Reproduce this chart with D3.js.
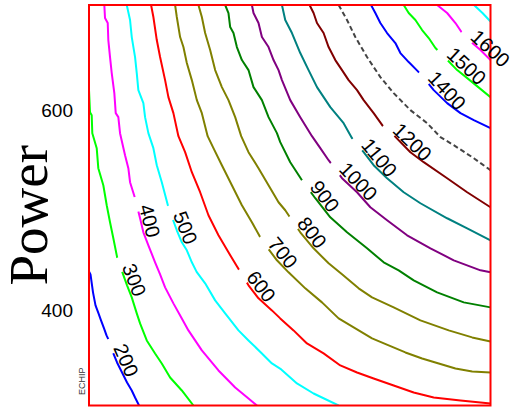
<!DOCTYPE html>
<html>
<head>
<meta charset="utf-8">
<script src="https://cdn.jsdelivr.net/npm/d3@7"></script>
<style>
  html, body { margin: 0; padding: 0; background: #fff; }
  svg { display: block; }
</style>
</head>
<body>
<svg id="chart" width="514" height="409"></svg>
<script>
// Contour levels of the fitted response, with their line colours
const levels = [200, 300, 400, 500, 600, 700, 800, 900, 1000, 1100, 1200, 1300, 1400, 1500, 1600, 1700];
const levelColors = ["#0000ff", "#00ff00", "#ff00ff", "#00ffff", "#ff0000", "#808000", "#808000", "#008000",
                     "#800080", "#008080", "#800000", "#444444", "#0000ff", "#00ff00", "#ff00ff", "#00ffff"];
// Power value at which each contour carries its label (null = unlabelled)
const labelPower = [362, 443, 503.5, 495, 432, 465, 485.5, 522, 539, 563.6, 577.5, null, 630, 653, 670.5, null];
const yTicks = [400, 600];

// Contour traces as [x, Power] pairs
const c200 = [[0,439],[1.5,436],[4,418],[6.5,405],[9.5,397],[12,390],[15,382],[17.5,375],[20.3,369],[24.3,357],[28,348],[31,342],[35,334],[38,328],[42.7,320],[46,313],[50,305]];
const c300 = [[0,620],[1,598],[2.7,595],[3.3,577],[7.7,562],[9.3,542],[14.3,525],[17.7,505],[21,488],[24.3,472],[28.5,451],[31,444],[33.7,437],[38,425],[42.7,413],[47.7,397],[51,387],[57.7,370],[66,357],[72.7,347],[81,333],[92.7,320],[104.3,305]];
const c400 = [[15.3,705],[16,692],[18.7,687],[19.3,670],[21,653],[22.7,637],[25.3,617],[26.7,597],[29.3,593],[31,577],[36,555],[39.3,542],[41,528],[46,512],[51,492],[54.3,478],[59.3,465],[66,448],[71,436],[76,423],[84.3,407],[92.7,392],[99.3,380],[112.7,360],[129.3,340],[146,323],[159.3,312],[167.7,305]];
const c500 = [[37.7,705],[41,690],[42.7,673],[46,653],[47.7,637],[49.3,620],[54.3,607],[56,593],[59.3,577],[64.3,562],[67.7,545],[72.7,528],[79.3,503],[87.7,480],[92.7,468],[97.7,460],[102.7,448],[107.5,438.5],[116,427],[126,410],[136,397],[149.3,380],[159.3,370],[172.7,357],[182.7,347],[192,341],[207.7,327],[224.3,317],[249.3,305]];
const c600 = [[62,705],[64.3,693],[67.7,670],[71,653],[76,630],[79.3,613],[84.3,597],[89.3,574],[96,558],[102.7,538],[111,518],[119.3,495],[129.3,475],[139.3,458],[147.7,444],[159.3,425],[169.3,412],[182.7,400],[191,392],[204.3,380],[217.7,367],[234.3,357],[251,345],[267.7,338],[284.3,332],[304.3,325],[324.3,318],[344.3,313],[371,310],[401,307]];
const c700 = [[86,705],[87.7,693],[91,673],[94.3,663],[97.7,647],[102.7,630],[107.7,610],[112.7,597],[118.5,574],[124.3,562],[132.7,545],[142.7,525],[152.7,505],[162.7,488],[172.7,470],[187.7,450],[199.3,438],[216,422],[232.7,408],[249.3,392],[266,382],[282.7,372],[299.3,365],[316,358],[332.7,352],[349.3,347],[366,342],[382.7,339],[401,338]];
const c800 = [[109.3,705],[112.7,693],[116,677],[121,660],[126,640],[132.7,623],[139.3,610],[146,593],[152,574],[159.3,558],[169.3,542],[179.3,525],[189.3,508],[196,500],[202.7,490],[211,478],[224.3,462],[239.3,447],[252.7,436],[269.3,422],[282.7,413],[304.3,403],[331,390],[359.3,380],[382.7,373],[401,369]];
const c900 = [[136,705],[139.3,697],[141,683],[144.3,677],[147.7,663],[152.7,650],[159.3,640],[164.3,623],[172.7,610],[179.3,593],[187.7,577],[191,568],[201,548],[212.7,530],[226,512],[241,493],[257.7,478],[277.7,462],[294.3,448],[309.3,440],[324.3,430],[347.7,418],[374.3,408],[401,403]];
const c1000 = [[162.7,705],[164.3,697],[169.3,687],[172.7,673],[179.3,663],[184.3,650],[189.3,640],[192.7,630],[201,610],[211,593],[222.7,574],[231,562],[239.3,550],[252.7,532],[267.7,518],[281,503],[297.7,490],[317.7,475],[341,462],[364.3,450],[391,440],[401,438]];
const c1100 = [[192.7,705],[196,690],[202.7,677],[211,657],[219.3,640],[227.7,623],[241,603],[254.3,587],[262.7,572],[274.3,558],[284.3,545],[297.7,532],[314.3,518],[331,507],[357.7,492],[377.7,482],[401,470]];
const c1200 = [[220.3,705],[224.3,697],[227.7,687],[234.3,677],[239.3,663],[246,650],[252.7,640],[259.3,630],[267.7,620],[274.3,610],[284.3,597],[294.3,583],[304.3,575],[321,558],[334.3,548],[357.7,532],[377.7,518],[401,503]];
const c1300 = [[249.3,705],[257.7,690],[266,673],[277.7,653],[291,633],[304.3,617],[321,600],[337.7,587],[351,573],[364.3,565],[384.3,552],[401,540]];
const c1400 = [[281.7,705],[286,697],[291,687],[297.7,677],[306,667],[311,657],[319.3,648],[328.3,639],[333.7,633],[344.3,620],[357.7,607],[371,597],[384.3,590],[401,582]];
const c1500 = [[314.3,705],[319.3,697],[326,690],[332.7,680],[339.3,672],[346,662],[356,652],[367.7,640],[382.7,628],[401,613]];
const c1600 = [[347.7,705],[357.7,697],[366,687],[372.7,677],[379.3,670],[391,660],[401,650]];
const c1700 = [[384.5,705],[393,697],[401,688.5]];
const traces = [c200, c300, c400, c500, c600, c700, c800, c900, c1000, c1100, c1200, c1300, c1400, c1500, c1600, c1700];

// ---- layout ----
const plot = { left: 89, right: 490.5, top: 5, bottom: 405.5 };
const x = d3.scaleLinear().domain([0, 401]).range([plot.left, plot.right]);
const y = d3.scaleLinear().domain([305, 705]).range([plot.bottom, plot.top]);

const svg = d3.select("#chart");
const defs = svg.append("defs");

defs.append("clipPath").attr("id", "plot-clip")
  .append("rect")
  .attr("x", plot.left).attr("y", plot.top)
  .attr("width", plot.right - plot.left).attr("height", plot.bottom - plot.top);

const mask = defs.append("mask").attr("id", "label-gaps")
  .attr("maskUnits", "userSpaceOnUse")
  .attr("x", 0).attr("y", 0).attr("width", 514).attr("height", 409);
mask.append("rect").attr("x", 0).attr("y", 0).attr("width", 514).attr("height", 409).attr("fill", "#fff");

const line = d3.line().x(d => x(d[0])).y(d => y(d[1]));

// Helpers to walk along a trace in screen space
function screenPts(trace) { return trace.map(d => [x(d[0]), y(d[1])]); }
function cumLen(pts) {
  const L = [0];
  for (let i = 1; i < pts.length; i++) {
    L.push(L[i - 1] + Math.hypot(pts[i][0] - pts[i - 1][0], pts[i][1] - pts[i - 1][1]));
  }
  return L;
}
function pointAt(pts, L, s) {
  s = Math.max(0, Math.min(L[L.length - 1], s));
  for (let i = 1; i < pts.length; i++) {
    if (s <= L[i]) {
      const t = (s - L[i - 1]) / ((L[i] - L[i - 1]) || 1);
      return [pts[i - 1][0] + t * (pts[i][0] - pts[i - 1][0]), pts[i - 1][1] + t * (pts[i][1] - pts[i - 1][1])];
    }
  }
  return pts[pts.length - 1];
}
function lengthAtY(pts, L, sy) {
  for (let i = 1; i < pts.length; i++) {
    if (sy >= pts[i - 1][1] && sy <= pts[i][1]) {
      const t = (sy - pts[i - 1][1]) / ((pts[i][1] - pts[i - 1][1]) || 1);
      return L[i - 1] + t * (L[i] - L[i - 1]);
    }
  }
  return L[L.length - 1] / 2;
}

// Label geometry: baseline starts on the line, runs along its chord
const labelInfo = levels.map((lv, i) => {
  if (labelPower[i] == null) return null;
  const pts = screenPts(traces[i]);
  const L = cumLen(pts);
  const s0 = lengthAtY(pts, L, y(labelPower[i]));
  const a = pointAt(pts, L, s0);
  const b = pointAt(pts, L, s0 + 30);
  const ang = Math.atan2(b[1] - a[1], b[0] - a[0]);
  const off = 1.5;
  const tx = a[0] + Math.sin(ang) * off;
  const ty = a[1] - Math.cos(ang) * off;
  return { text: String(lv), transform: `translate(${tx},${ty}) rotate(${ang * 180 / Math.PI})`, off };
});

// Cut a short gap in each contour where its label starts
labelInfo.forEach(d => {
  if (!d) return;
  mask.append("rect")
    .attr("transform", d.transform)
    .attr("x", -10).attr("y", -6)
    .attr("width", 15).attr("height", 12 + d.off)
    .attr("fill", "#000");
});

// Contour lines
svg.append("g").attr("clip-path", "url(#plot-clip)")
  .append("g").attr("mask", "url(#label-gaps)")
  .selectAll("path")
  .data(traces)
  .join("path")
  .attr("d", line)
  .attr("fill", "none")
  .attr("stroke", (d, i) => levelColors[i])
  .attr("stroke-width", 2)
  .attr("stroke-linejoin", "round")
  .attr("stroke-dasharray", (d, i) => levels[i] === 1300 ? "5,3" : null);

// Plot frame
svg.append("rect")
  .attr("x", plot.left).attr("y", plot.top)
  .attr("width", plot.right - plot.left).attr("height", plot.bottom - plot.top)
  .attr("fill", "none").attr("stroke", "#ff0000").attr("stroke-width", 2);

// Contour labels
svg.append("g")
  .selectAll("text")
  .data(labelInfo.filter(d => d))
  .join("text")
  .attr("transform", d => d.transform)
  .attr("font-family", "'Liberation Sans', Arial, sans-serif")
  .attr("font-size", 20)
  .attr("fill", "#000")
  .text(d => d.text);

// Power axis (labels only)
const yAxis = d3.axisLeft(y).tickValues(yTicks).tickSize(0).tickPadding(16).tickFormat(d3.format("d"));
const ag = svg.append("g").attr("transform", `translate(${plot.left},0)`).call(yAxis);
ag.select(".domain").remove();
ag.selectAll("text")
  .attr("font-family", "'Liberation Sans', Arial, sans-serif")
  .attr("font-size", 19)
  .attr("fill", "#000");

// Axis title
svg.append("text")
  .attr("transform", `translate(47,${(plot.top + plot.bottom) / 2 + 10}) rotate(-90)`)
  .attr("text-anchor", "middle")
  .attr("font-family", "'Liberation Serif', 'Times New Roman', serif")
  .attr("font-size", 55)
  .attr("fill", "#000")
  .text("Power");

// Software tag
svg.append("text")
  .attr("transform", "translate(85,395) rotate(-90)")
  .attr("font-family", "'Liberation Sans', Arial, sans-serif")
  .attr("font-size", 9)
  .attr("fill", "#333")
  .text("ECHIP");
</script>
</body>
</html>
